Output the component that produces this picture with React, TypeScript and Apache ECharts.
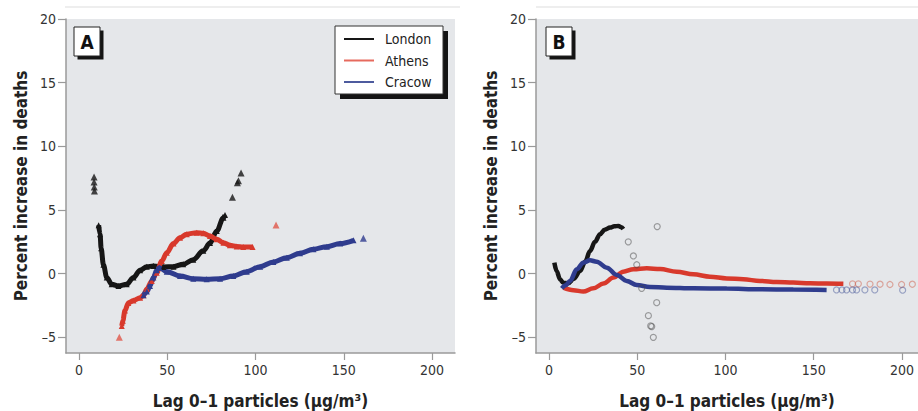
import React, { useEffect, useRef } from "react";
import * as echarts from "echarts";

// ---------- data ----------
const xTicks = [0, 50, 100, 150, 200];
const yTicks = [-5, 0, 5, 10, 15, 20];
const cities = ["London", "Athens", "Cracow"];
const panelLabels = ["A", "B"];
const xTitle = "Lag 0–1 particles (μg/m³)";
const yTitle = "Percent increase in deaths";

// Panel A — dense runs of triangles
const londonA = [
  [11.1, 3.8], [11.9, 3.1], [12.5, 2.0], [13.8, 0.7], [15.7, -0.3], [18.5, -0.83],
  [22.3, -0.97], [27, -0.83], [30.8, -0.3], [34.6, 0.27], [38.4, 0.55], [42.1, 0.6],
  [47.8, 0.53], [53.5, 0.55], [59, 0.74], [64.7, 1.1], [70.4, 1.8], [74.2, 2.4],
  [78, 3.35], [81.8, 4.4], [82.7, 4.6],
];
const londonASparse = [
  [8.5, 7.6], [8.5, 7.2], [8.6, 6.8], [8.7, 6.5],
  [86.9, 6.0], [89.7, 7.15], [90.3, 7.3], [91.8, 7.9],
];
const athensA = [
  [24.2, -4.1], [24.8, -3.7], [26, -2.9], [27.9, -2.3], [30.8, -2.1], [34.6, -1.9],
  [36.5, -1.7], [38.4, -1.2], [41.2, -0.57], [44, 0.08], [46.9, 1.0], [49.7, 1.65],
  [53.5, 2.36], [57.2, 2.83], [61, 3.1], [66.7, 3.22], [70.4, 3.17], [74.2, 2.96],
  [78, 2.7], [81.8, 2.43], [85.5, 2.23], [89.3, 2.14], [93, 2.1], [98.3, 2.1],
];
const athensASparse = [[22.8, -5.0], [111.6, 3.82]];
const cracowA = [
  [36.5, -1.7], [38.4, -1.41], [40.2, -0.97], [42.1, -0.3], [44, 0.27], [45.5, 0.47],
  [49.7, 0.16], [57.2, -0.18], [64.7, -0.39], [72.3, -0.44], [79.9, -0.39], [87.4, -0.18],
  [95, 0.16], [102.6, 0.55], [110.1, 0.92], [117.7, 1.26], [125.2, 1.6], [132.8, 1.92],
  [140.4, 2.12], [147.9, 2.36], [155.5, 2.62],
];
const cracowASparse = [[161.1, 2.78]];

// Panel B — dense runs of circles
const londonB = [
  [3.0, 0.87], [4.3, 0.2], [6.2, -0.44], [8.1, -0.72], [10.9, -0.75], [14, -0.4],
  [17.6, 0.21], [20.5, 0.95], [23.2, 1.78], [26, 2.5], [28.9, 3.1], [31.5, 3.45],
  [34.6, 3.62], [37, 3.72], [39.3, 3.75], [41, 3.65], [42.1, 3.5],
];
const londonBSparse = [
  [44.9, 2.5], [47.8, 1.39], [49.7, 0.7], [52.5, -1.15], [61.3, 3.7], [61, -2.28],
  [56.3, -3.3], [57.6, -4.1], [58.2, -4.15], [59.1, -5.0],
];
const athensB = [
  [8.1, -1.1], [13.8, -1.3], [19.4, -1.41], [25.1, -1.15], [30.8, -0.78], [36.5, -0.31],
  [42.1, 0.16], [47.8, 0.34], [55.4, 0.42], [62.9, 0.36], [72.3, 0.16], [81.8, -0.05],
  [91.2, -0.24], [100.7, -0.37], [110.1, -0.44], [119.5, -0.57], [129, -0.65],
  [138.4, -0.7], [147.9, -0.75], [157.3, -0.78], [166.8, -0.8],
];
const athensBSparse = [
  [172, -0.8], [175.3, -0.8], [181.9, -0.82], [187.6, -0.83], [193.2, -0.85],
  [199.8, -0.85], [205.9, -0.83],
];
const cracowB = [
  [7.2, -1.15], [9.5, -0.9], [11.9, -0.57], [15.7, 0.34], [19.4, 0.86], [23.2, 1.05],
  [27, 0.94], [32.7, 0.47], [38.4, -0.1], [44, -0.57], [49.7, -0.89], [57.2, -1.04],
  [66.7, -1.1], [81.8, -1.15], [100.7, -1.17], [119.5, -1.23], [138.4, -1.25], [157.3, -1.28],
];
const cracowBSparse = [
  [162.9, -1.28], [166, -1.28], [168.6, -1.28], [172, -1.28], [174.3, -1.28],
  [179, -1.28], [184.6, -1.28], [200.4, -1.3],
];

// ---------- styling ----------
const FONT = "'Liberation Sans Narrow', 'DejaVu Sans Condensed', 'Arial Narrow', sans-serif";
const colors = ["#161616", "#d8392c", "#2f3c8e"];
const legendColors = ["#161616", "#e66a5e", "#4d5b9e"];
const fadedB = ["rgba(70,70,70,0.6)", "rgba(205,90,70,0.6)", "rgba(70,85,150,0.6)"];
const AXIS_GREY = "#9a9a9a";
const PLOT_BG = "#e5e7ea";

const fmtY = (v: number) => (v < 0 ? "\u2013" + Math.abs(v) : String(v));

function makeX(gridIndex: number, max: number) {
  return {
    type: "value",
    gridIndex,
    min: -7.4,
    max,
    axisLine: { show: true, onZero: false, lineStyle: { color: AXIS_GREY, width: 1.5 } },
    axisTick: { show: true, length: 7, customValues: xTicks, lineStyle: { color: AXIS_GREY, width: 1.2 } },
    axisLabel: { customValues: xTicks, fontSize: 14, color: "#333", fontFamily: FONT, margin: 10 },
    splitLine: { show: false },
    name: xTitle,
    nameLocation: "middle",
    nameGap: 39,
    nameTextStyle: { fontSize: 17, fontWeight: "bold", color: "#222", fontFamily: FONT },
  };
}
function makeY(gridIndex: number) {
  return {
    type: "value",
    gridIndex,
    min: -6.23,
    max: 20,
    axisLine: { show: true, onZero: false, lineStyle: { color: AXIS_GREY, width: 1.5 } },
    axisTick: { show: true, length: 8, customValues: yTicks, lineStyle: { color: AXIS_GREY, width: 1.2 } },
    axisLabel: { customValues: yTicks, fontSize: 14, color: "#333", fontFamily: FONT, margin: 10, formatter: fmtY },
    splitLine: { show: false },
    name: yTitle,
    nameLocation: "middle",
    nameGap: 37,
    nameTextStyle: { fontSize: 17, fontWeight: "bold", color: "#222", fontFamily: FONT },
  };
}

function denseA(name: string, data: number[][], i: number) {
  return {
    name, type: "line", xAxisIndex: 0, yAxisIndex: 0, data,
    smooth: 0.35, smoothMonotone: "x",
    symbol: "triangle", symbolSize: 6, showSymbol: true, showAllSymbol: true,
    lineStyle: { color: colors[i], width: 5 },
    itemStyle: { color: colors[i] },
    z: 3,
  };
}
function sparseA(name: string, data: number[][], i: number) {
  return {
    name, type: "scatter", xAxisIndex: 0, yAxisIndex: 0, data,
    symbol: "triangle", symbolSize: 7,
    itemStyle: { color: i === 1 ? "#e0574a" : colors[i] },
    z: 3,
  };
}
function denseB(name: string, data: number[][], i: number) {
  return {
    name, type: "line", xAxisIndex: 1, yAxisIndex: 1, data,
    smooth: 0.35, smoothMonotone: "x",
    symbol: "circle", showSymbol: false,
    lineStyle: { color: colors[i], width: 4.5 },
    itemStyle: { color: colors[i] },
    z: 3,
  };
}
function sparseB(name: string, data: number[][], i: number) {
  return {
    name, type: "scatter", xAxisIndex: 1, yAxisIndex: 1, data,
    symbol: "circle", symbolSize: 6,
    itemStyle: { color: "rgba(0,0,0,0)", borderColor: fadedB[i], borderWidth: 1.2 },
    z: 3,
  };
}

function labelBox(x: number, y: number, text: string) {
  return {
    type: "group",
    z: 5,
    children: [
      { type: "rect", shape: { x: x + 3.5, y: y + 3.5, width: 26, height: 29 }, style: { fill: "#141414" } },
      { type: "rect", shape: { x, y, width: 26, height: 29 }, style: { fill: "#fff", stroke: "#222", lineWidth: 1 } },
      {
        type: "text", x: x + 13, y: y + 15,
        style: { text, fontSize: 19, fontWeight: "bold", fontFamily: FONT, fill: "#111", align: "center", verticalAlign: "middle" },
      },
    ],
  };
}

export default function App() {
  const ref = useRef<HTMLDivElement>(null);
  useEffect(() => {
    if (!ref.current) return;
    const chart = echarts.init(ref.current, null, { renderer: "svg" });
    const option = {
      animation: false,
      backgroundColor: "#ffffff",
      grid: [
        { left: 66, top: 19, width: 389, height: 334, show: true, backgroundColor: PLOT_BG, borderWidth: 0, outerBoundsMode: "none", containLabel: false },
        { left: 536, top: 19, width: 382, height: 334, show: true, backgroundColor: PLOT_BG, borderWidth: 0, outerBoundsMode: "none", containLabel: false },
      ],
      xAxis: [makeX(0, 213), makeX(1, 209.1)],
      yAxis: [makeY(0), makeY(1)],
      legend: {
        data: cities.map((n, i) => ({ name: n, itemStyle: { color: legendColors[i], opacity: 0 }, lineStyle: { color: legendColors[i], width: 2 } })),
        orient: "vertical",
        left: 343,
        top: 31,
        padding: 0,
        itemGap: 5.5,
        itemWidth: 30,
        itemHeight: 14,
        textStyle: { fontSize: 14, color: "#222", fontFamily: FONT, lineHeight: 16, padding: [0, 0, 0, 6] },
        selectedMode: false,
        z: 10,
      },
      graphic: [
        { type: "line", shape: { x1: 65, y1: 7, x2: 460, y2: 7 }, style: { stroke: "#dddddd", lineWidth: 1 } },
        { type: "line", shape: { x1: 536, y1: 7, x2: 918, y2: 7 }, style: { stroke: "#dddddd", lineWidth: 1 } },
        labelBox(74, 27, panelLabels[0]),
        labelBox(546, 27, panelLabels[1]),
        { type: "rect", z: 4, shape: { x: 340, y: 31, width: 108, height: 68 }, style: { fill: "#141414" } },
        { type: "rect", z: 4, shape: { x: 335, y: 26, width: 108, height: 68 }, style: { fill: "#fff", stroke: "#333", lineWidth: 1 } },
      ],
      series: [
        denseA(cities[0], londonA, 0),
        sparseA(cities[0], londonASparse, 0),
        denseA(cities[1], athensA, 1),
        sparseA(cities[1], athensASparse, 1),
        denseA(cities[2], cracowA, 2),
        sparseA(cities[2], cracowASparse, 2),
        denseB(cities[0], londonB, 0),
        sparseB(cities[0], londonBSparse, 0),
        denseB(cities[1], athensB, 1),
        sparseB(cities[1], athensBSparse, 1),
        denseB(cities[2], cracowB, 2),
        sparseB(cities[2], cracowBSparse, 2),
      ],
    };
    chart.setOption(option as any);
    return () => chart.dispose();
  }, []);
  return <div ref={ref} style={{ position: "fixed", left: 0, top: 0, width: 918, height: 411 }} />;
}
